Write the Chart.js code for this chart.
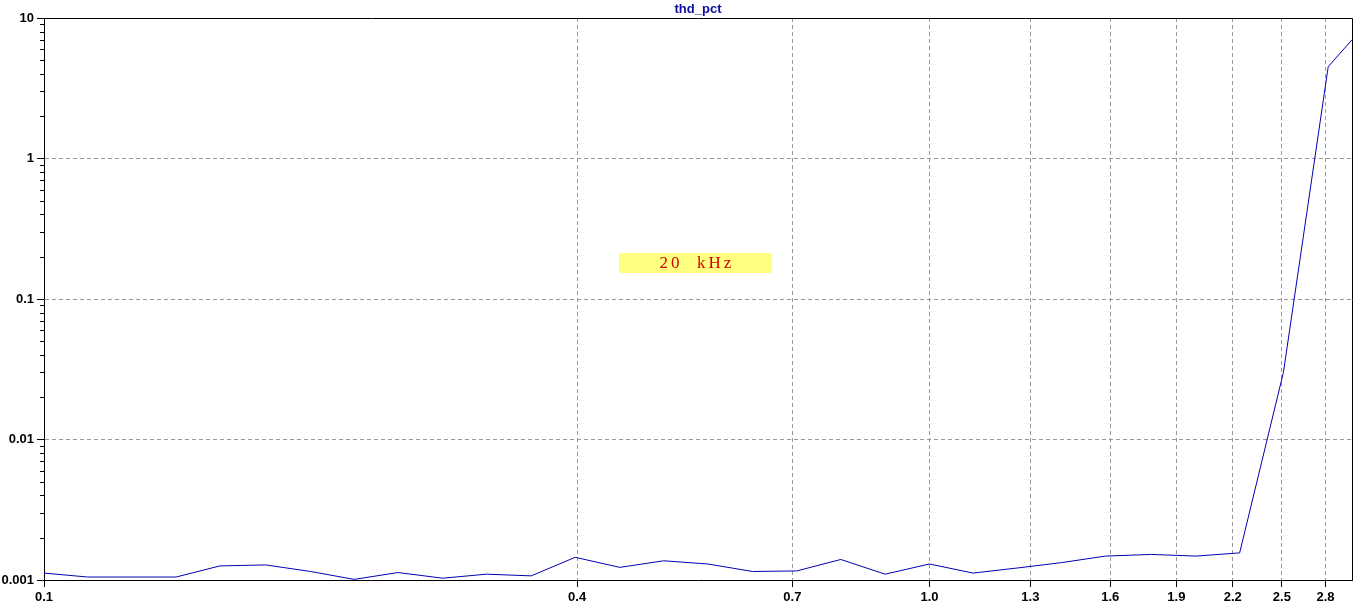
<!DOCTYPE html>
<html>
<head>
<meta charset="utf-8">
<title>thd_pct</title>
<script src="https://cdn.jsdelivr.net/npm/chart.js@4"></script>
<style>
  html, body { margin: 0; padding: 0; background: #fff; }
  canvas { display: block; }
</style>
</head>
<body>
<canvas id="thdChart" width="1362" height="606"></canvas>
<script>
// ---- data ----
const freqs = [0.1, 0.112, 0.126, 0.141, 0.158, 0.178, 0.2, 0.224, 0.251, 0.282,
               0.316, 0.355, 0.398, 0.447, 0.501, 0.562, 0.631, 0.708, 0.794, 0.891,
               1.0, 1.12, 1.26, 1.41, 1.58, 1.78, 2.0, 2.24, 2.51, 2.82, 3.0];
const thdPct = [0.00112, 0.00105, 0.00105, 0.00105, 0.00126, 0.00128, 0.00115, 0.00101, 0.00113, 0.00103,
                0.00110, 0.00107, 0.00145, 0.00123, 0.00137, 0.00130, 0.00115, 0.00116, 0.00140, 0.00110,
                0.00130, 0.00112, 0.00122, 0.00133, 0.00148, 0.00152, 0.00148, 0.00156, 0.030, 4.5, 7.0];
const xTickLabels = [0.1, 0.4, 0.7, 1.0, 1.3, 1.6, 1.9, 2.2, 2.5, 2.8];
const yTickLabels = [0.001, 0.01, 0.1, 1, 10];

const chartTitle = 'thd_pct';
const noteText = '20  kHz';

const tickFont = { family: 'Liberation Sans', size: 13, weight: 'bold' };

// frame, minor y ticks, title and the yellow note
const extrasPlugin = {
    id: 'extras',
    afterDraw(chart) {
        const ctx = chart.ctx;
        const area = chart.chartArea;
        const y = chart.scales.y;

        ctx.save();
        ctx.strokeStyle = '#000';
        ctx.lineWidth = 1;
        ctx.beginPath();
        ctx.moveTo(Math.round(area.left) + 0.5, Math.round(area.top) + 0.5);
        ctx.lineTo(Math.round(area.right) + 0.5, Math.round(area.top) + 0.5);
        ctx.lineTo(Math.round(area.right) + 0.5, Math.round(area.bottom) + 0.5);
        ctx.stroke();

        // minor ticks 2..9 of each decade
        ctx.beginPath();
        for (let e = -3; e < 1; e++) {
            for (let m = 2; m <= 9; m++) {
                const py = Math.round(y.getPixelForValue(m * Math.pow(10, e))) + 0.5;
                ctx.moveTo(area.left - 4, py);
                ctx.lineTo(area.left, py);
            }
        }
        ctx.stroke();

        // title
        ctx.fillStyle = '#0c0ca0';
        ctx.font = 'bold 13px "Liberation Sans"';
        ctx.textAlign = 'center';
        ctx.textBaseline = 'middle';
        ctx.fillText(chartTitle, (area.left + area.right) / 2, 9);

        // note box
        ctx.fillStyle = '#ffff80';
        ctx.fillRect(619, 253, 153, 20);
        ctx.fillStyle = '#d40000';
        ctx.font = '17px "Liberation Serif"';
        ctx.letterSpacing = '3px';
        ctx.textAlign = 'center';
        ctx.fillText(noteText, 697, 264);
        ctx.restore();
    }
};

document.addEventListener('DOMContentLoaded', function () {
    const ctx = document.getElementById('thdChart');
    new Chart(ctx, {
        type: 'line',
        data: {
            datasets: [{
                label: chartTitle,
                data: freqs.map((f, i) => ({ x: f, y: thdPct[i] })),
                borderColor: '#0000b4',
                borderWidth: 1,
                pointRadius: 0,
                tension: 0,
                fill: false
            }]
        },
        options: {
            responsive: false,
            animation: false,
            devicePixelRatio: 1,
            layout: { padding: { top: 18, right: 10, left: 0, bottom: 0 } },
            plugins: { legend: { display: false }, title: { display: false }, tooltip: { enabled: false } },
            scales: {
                x: {
                    type: 'logarithmic',
                    position: 'bottom',
                    min: 0.1, max: 3.0,
                    afterBuildTicks: s => { s.ticks = xTickLabels.map(v => ({ value: v })); },
                    afterFit: s => { s.height = 26; },
                    grid: {
                        color: c => (c.tick && c.tick.value === xTickLabels[0]) ? 'rgba(0,0,0,0)' : '#999',
                        tickColor: '#000',
                        tickLength: 7,
                        lineWidth: 1
                    },
                    border: { display: true, color: '#000', width: 1, dash: [4, 3] },
                    ticks: {
                        autoSkip: false, maxRotation: 0, padding: 3,
                        color: '#000', font: tickFont,
                        callback: v => Number(v).toFixed(1)
                    }
                },
                y: {
                    type: 'logarithmic',
                    min: 0.001, max: 10,
                    afterBuildTicks: s => { s.ticks = yTickLabels.map(v => ({ value: v, major: true })); },
                    afterFit: s => { s.width = 44; },
                    grid: {
                        color: c => (c.tick && (c.tick.value === 0.001 || c.tick.value === 10)) ? 'rgba(0,0,0,0)' : '#999',
                        tickColor: '#000',
                        tickLength: 7,
                        lineWidth: 1
                    },
                    border: { display: true, color: '#000', width: 1, dash: [4, 3] },
                    ticks: {
                        autoSkip: false, padding: 3,
                        color: '#000', font: tickFont,
                        callback: v => String(v)
                    }
                }
            }
        },
        plugins: [extrasPlugin]
    });
});
</script>
</body>
</html>
